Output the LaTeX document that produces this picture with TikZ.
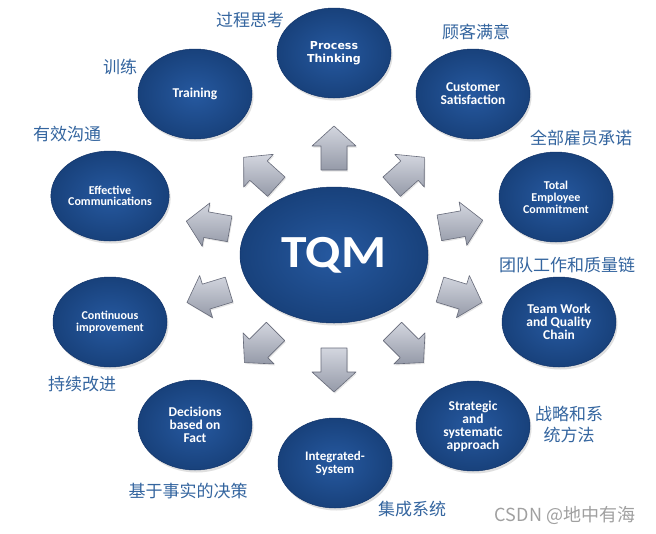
\documentclass[tikz,border=0pt]{standalone}
\usepackage{fontspec}
\setmainfont{Carlito}
\newfontfamily\cjk{Noto Sans CJK SC}
\newfontfamily\dvs{DejaVu Sans}
\usetikzlibrary{shapes.geometric,shadows}
\definecolor{blueIn}{HTML}{2659A0}
\definecolor{blueOut}{HTML}{18417B}
\definecolor{blueRim}{HTML}{12346A}
\definecolor{cnblue}{HTML}{34659F}
\definecolor{arrLight}{HTML}{D3D6DF}
\definecolor{arrDark}{HTML}{959AA8}
\definecolor{arrEdge}{HTML}{676B7A}
\definecolor{wm}{HTML}{A0A0A0}
\tikzset{
  oval/.style={ellipse, minimum width=114pt, minimum height=90pt, inner sep=0pt,
    inner color=blueIn, outer color=blueOut, draw=blueRim, line width=0.5pt,
    text=white, align=center, font=\bfseries\fontsize{13.5}{13}\selectfont,
    drop shadow={opacity=0.25, shadow xshift=1.5pt, shadow yshift=-2.5pt}},
  cnlabel/.style={text=cnblue, font=\cjk\fontsize{17}{21}\selectfont, align=center, inner sep=0pt},
  blockarr/.style={top color=arrLight, bottom color=arrDark, draw=arrEdge, line width=0.6pt, line join=round,
    drop shadow={opacity=0.2, shadow xshift=1pt, shadow yshift=-1.5pt}}
}
\newcommand\blockarrow[3]{%
  \begin{scope}[shift={(#1,#2)}, rotate=#3]
    \path[blockarr] (-22,-13) -- (2,-13) -- (2,-22) -- (22,0) -- (2,22) -- (2,13) -- (-22,13) -- cycle;
  \end{scope}}
\begin{document}
\begin{tikzpicture}[x=1pt,y=-1pt]
\useasboundingbox (0,0) rectangle (656,533);
\fill[white] (0,0) rectangle (656,533);

% arrows
\foreach \ax/\ay/\aa in {334/148/90, 408/172/42, 461/224/10, 461/296/-17, 408/347/-45,
  334/370/-90, 260/347/-135, 208/296/197, 208/225/170, 260/172/138}
  {\blockarrow{\ax}{\ay}{\aa}}

% central
\node[oval, minimum width=188pt, minimum height=136pt, font=\bfseries\fontsize{46}{46}\selectfont] (tqm) at (334,255) {\scalebox{1.12}[1]{TQM}};

% outer ellipses
\node[oval, font=\dvs\bfseries\fontsize{11}{13}\selectfont] (pt) at (334,53) {Process\\Thinking};
\node[oval] (cs) at (473,94) {Customer\\Satisfaction};
\node[oval, font=\bfseries\fontsize{12}{12}\selectfont] (te) at (556,197) {Total\\Employee\\Commitment};
\node[oval] (tw) at (559,322) {Team Work\\and Quality\\Chain};
\node[oval] (ss) at (473,426) {Strategic\\and\\systematic\\approach};
\node[oval, font=\bfseries\fontsize{13}{13}\selectfont] (is) at (335,463) {Integrated-\\System};
\node[oval] (df) at (195,425) {Decisions\\based on\\Fact};
\node[oval, font=\bfseries\fontsize{12}{12}\selectfont] (ci) at (110,322) {Continuous\\improvement};
\node[oval, font=\bfseries\fontsize{12}{11.5}\selectfont] (ec) at (110,196) {Effective\\Communications};
\node[oval, font=\bfseries\fontsize{13.5}{13}\selectfont] (tr) at (195,94) {Training};

% chinese labels
\node[cnlabel] (lpt) at (250,20) {过程思考};
\node[cnlabel] (lcs) at (476,32) {顾客满意};
\node[cnlabel] (ltr) at (120,67) {训练};
\node[cnlabel] (lec) at (67,134) {有效沟通};
\node[cnlabel] (lte) at (581,138) {全部雇员承诺};
\node[cnlabel] (ltw) at (567,265) {团队工作和质量链};
\node[cnlabel] (lci) at (82,384) {持续改进};
\node[cnlabel] (lss) at (569,425) {战略和系\\统方法};
\node[cnlabel] (ldf) at (188,491) {基于事实的决策};
\node[cnlabel] (lis) at (412,509) {集成系统};
\node[text=wm, font=\cjk\fontsize{18}{20}\selectfont, inner sep=0pt] (wmk) at (565,515) {CSDN @地中有海};
\end{tikzpicture}
\end{document}
